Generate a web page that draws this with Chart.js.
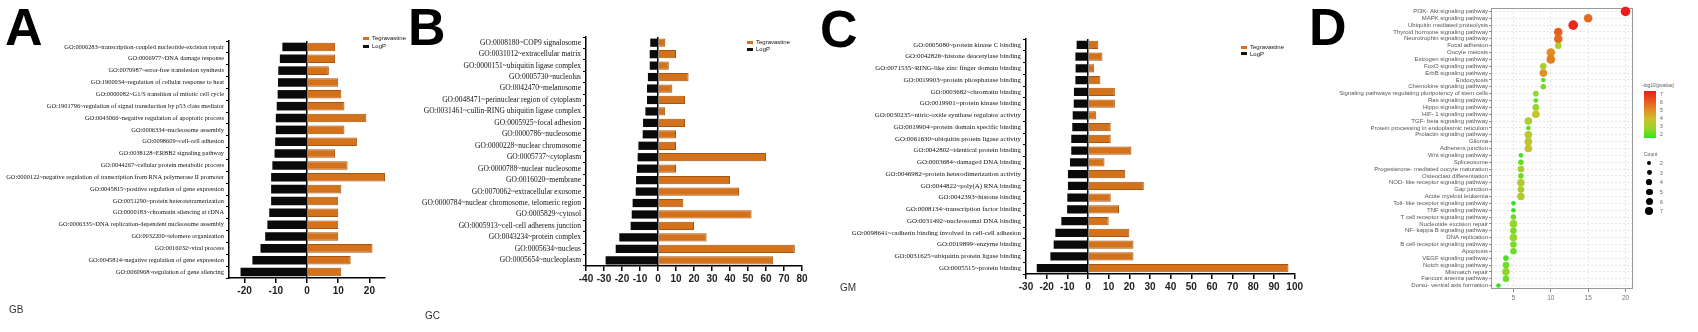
<!DOCTYPE html>
<html>
<head>
<meta charset="utf-8">
<script src="https://cdn.jsdelivr.net/npm/chart.js@4.4.0/dist/chart.umd.min.js"></script>
<style>
html, body { margin: 0; padding: 0; background: #fff; }
#wrap { position: relative; width: 1698px; height: 332px; overflow: hidden; font-family: "Liberation Sans", Arial, sans-serif; }
canvas { position: absolute; }
.t { position: absolute; white-space: nowrap; }
.letter { font-weight: bold; font-size: 52px; line-height: 52px; color: #000; }
.grp { font-size: 10px; line-height: 10px; color: #333; }
.lg { position: absolute; font-size: 6px; color: #111; white-space: nowrap; }
.lg .sw { display: inline-block; width: 6px; height: 3px; margin-right: 3px; vertical-align: middle; }
.dl { font-size: 5px; line-height: 6px; color: #555; }
</style>
</head>
<body>
<div id="wrap">
  <canvas id="cA" width="395" height="308" style="left:0px;top:0px"></canvas>
  <canvas id="cB" width="412" height="296" style="left:400px;top:0px"></canvas>
  <canvas id="cC" width="485" height="304" style="left:820px;top:0px"></canvas>
  <canvas id="cD" width="340" height="310" style="left:1300px;top:0px"></canvas>

  <div class="t letter" style="left:5px;top:1px">A</div>
  <div class="t letter" style="left:408px;top:1px">B</div>
  <div class="t letter" style="left:820px;top:3px">C</div>
  <div class="t letter" style="left:1309px;top:1px">D</div>

  <div class="t grp" style="left:9px;top:305px">GB</div>
  <div class="t grp" style="left:425px;top:311px">GC</div>
  <div class="t grp" style="left:840px;top:283px">GM</div>

  <div class="lg" style="left:363px;top:34px;line-height:8px">
    <div><span class="sw" style="background:#d4721b"></span>Tegravastine</div>
    <div><span class="sw" style="background:#111"></span>LogP</div>
  </div>
  <div class="lg" style="left:747px;top:39px;line-height:7px">
    <div><span class="sw" style="background:#d4721b"></span>Tegravastine</div>
    <div><span class="sw" style="background:#111"></span>LogP</div>
  </div>
  <div class="lg" style="left:1241px;top:44px;line-height:6.5px">
    <div><span class="sw" style="background:#d4721b"></span>Tegravastine</div>
    <div><span class="sw" style="background:#111"></span>LogP</div>
  </div>

  <div id="dLegend"></div>
</div>

<script>
// ---- panel A (GB) ----
const A_terms = [
  'GO:0006283~transcription-coupled nucleotide-excision repair',
  'GO:0006977~DNA damage response',
  'GO:0070987~error-free translesion synthesis',
  'GO:1900034~regulation of cellular response to heat',
  'GO:0000082~G1/S transition of mitotic cell cycle',
  'GO:1901796~regulation of signal transduction by p53 class mediator',
  'GO:0043066~negative regulation of apoptotic process',
  'GO:0006334~nucleosome assembly',
  'GO:0098609~cell-cell adhesion',
  'GO:0038128~ERBB2 signaling pathway',
  'GO:0044267~cellular protein metabolic process',
  'GO:0000122~negative regulation of transcription from RNA polymerase II promoter',
  'GO:0045815~positive regulation of gene expression',
  'GO:0051290~protein heterotetramerization',
  'GO:0000183~chromatin silencing at rDNA',
  'GO:0006335~DNA replication-dependent nucleosome assembly',
  'GO:0032200~telomere organization',
  'GO:0016032~viral process',
  'GO:0045814~negative regulation of gene expression',
  'GO:0060968~regulation of gene silencing'
];
const A_logp = [-7.9, -8.7, -9.2, -9.3, -9.4, -9.7, -10, -10, -10.2, -10.4, -11.1, -11.5, -11.5, -11.5, -12.1, -12.7, -13.4, -14.9, -17.5, -21.3];
const A_hits = [9, 9, 7, 10, 11, 12, 19, 12, 16, 9, 13, 25, 11, 10, 10, 10, 10, 21, 14, 11];
const A_ticks = [-20, -10, 0, 10, 20];

// ---- panel B (GC) ----
const B_terms = [
  'GO:0008180~COP9 signalosome',
  'GO:0031012~extracellular matrix',
  'GO:0000151~ubiquitin ligase complex',
  'GO:0005730~nucleolus',
  'GO:0042470~melanosome',
  'GO:0048471~perinuclear region of cytoplasm',
  'GO:0031461~cullin-RING ubiquitin ligase complex',
  'GO:0005925~focal adhesion',
  'GO:0000786~nucleosome',
  'GO:0000228~nuclear chromosome',
  'GO:0005737~cytoplasm',
  'GO:0000788~nuclear nucleosome',
  'GO:0016020~membrane',
  'GO:0070062~extracellular exosome',
  'GO:0000784~nuclear chromosome, telomeric region',
  'GO:0005829~cytosol',
  'GO:0005913~cell-cell adherens junction',
  'GO:0043234~protein complex',
  'GO:0005634~nucleus',
  'GO:0005654~nucleoplasm'
];
const B_logp = [-4.3, -4.6, -4.6, -5.6, -6.1, -6.1, -7.0, -8.3, -8.5, -10.9, -11.3, -11.7, -12.2, -12.4, -14.1, -14.6, -15.2, -21.5, -23.5, -29.1];
const B_hits = [4, 10, 6, 17, 8, 15, 4, 15, 10, 10, 60, 10, 40, 45, 14, 52, 20, 27, 76, 64];
const B_ticks = [-40, -30, -20, -10, 0, 10, 20, 30, 40, 50, 60, 70, 80];

// ---- panel C (GM) ----
const C_terms = [
  'GO:0005080~protein kinase C binding',
  'GO:0042826~histone deacetylase binding',
  'GO:0071535~RING-like zinc finger domain binding',
  'GO:0019903~protein phosphatase binding',
  'GO:0003682~chromatin binding',
  'GO:0019901~protein kinase binding',
  'GO:0030235~nitric-oxide synthase regulator activity',
  'GO:0019904~protein domain specific binding',
  'GO:0061630~ubiquitin protein ligase activity',
  'GO:0042802~identical protein binding',
  'GO:0003684~damaged DNA binding',
  'GO:0046982~protein heterodimerization activity',
  'GO:0044822~poly(A) RNA binding',
  'GO:0042393~histone binding',
  'GO:0008134~transcription factor binding',
  'GO:0031492~nucleosomal DNA binding',
  'GO:0098641~cadherin binding involved in cell-cell adhesion',
  'GO:0019899~enzyme binding',
  'GO:0031625~ubiquitin protein ligase binding',
  'GO:0005515~protein binding'
];
const C_logp = [-5.5, -6.1, -6.0, -6.1, -6.8, -6.9, -7.4, -7.6, -8.1, -8.1, -8.7, -9.7, -9.7, -10, -10.1, -12.9, -15.8, -16.6, -18.2, -24.8];
const C_hits = [5, 7, 3, 6, 13, 13, 4, 11, 11, 21, 8, 18, 27, 11, 15, 10, 20, 22, 22, 97];
const C_ticks = [-30, -20, -10, 0, 10, 20, 30, 40, 50, 60, 70, 80, 90, 100];

// ---- panel D (KEGG) ----
const D_paths = [
  'PI3K- Akt signaling pathway', 'MAPK signaling pathway', 'Ubiquitin mediated proteolysis',
  'Thyroid hormone signaling pathway', 'Neurotrophin signaling pathway', 'Focal adhesion',
  'Oocyte meiosis', 'Estrogen signaling pathway', 'FoxO signaling pathway', 'ErbB signaling pathway',
  'Endocytosis', 'Chemokine signaling pathway', 'Signaling pathways regulating pluripotency of stem cells',
  'Ras signaling pathway', 'Hippo signaling pathway', 'HIF- 1 signaling pathway', 'TGF- beta signaling pathway',
  'Protein processing in endoplasmic reticulum', 'Prolactin signaling pathway', 'Glioma', 'Adherens junction',
  'Wnt signaling pathway', 'Spliceosome', 'Progesterone- mediated oocyte maturation', 'Osteoclast differentiation',
  'NOD- like receptor signaling pathway', 'Gap junction', 'Acute myeloid leukemia',
  'Toll- like receptor signaling pathway', 'TNF signaling pathway', 'T cell receptor signaling pathway',
  'Nucleotide excision repair', 'NF- kappa B signaling pathway', 'DNA replication',
  'B cell receptor signaling pathway', 'Apoptosis', 'VEGF signaling pathway', 'Notch signaling pathway',
  'Mismatch repair', 'Fanconi anemia pathway', 'Dorso- ventral axis formation'
];
const D_xval = [20, 15, 13, 11, 11, 11, 10, 10, 9, 9, 9, 9, 8, 8, 8, 8, 7, 7, 7, 7, 7, 6, 6, 6, 6, 6, 6, 6, 5, 5, 5, 5, 5, 5, 5, 5, 4, 4, 4, 4, 3];
const D_pval = [7, 5.6, 6.8, 5.8, 5.6, 3.4, 5.0, 5.2, 3.4, 4.9, 2.4, 2.7, 2.9, 2.4, 3.1, 3.8, 3.5, 2.3, 3.6, 3.8, 3.9, 2.2, 2.5, 3.3, 2.6, 3.5, 3.3, 3.5, 2.0, 2.0, 2.5, 3.0, 2.7, 3.0, 2.7, 2.6, 2.3, 2.6, 2.9, 2.6, 2.0];
const D_size = [7, 6, 7, 6, 6, 4, 6, 6, 4, 5, 2, 3, 3, 2, 4, 5, 5, 2, 5, 5, 5, 2, 3, 4, 3, 5, 4, 5, 2, 2, 3, 5, 4, 5, 4, 4, 3, 4, 5, 4, 2];
const D_ticks = [5, 10, 15, 20];
const D_legendP = [7, 6, 5, 4, 3, 2];
const D_legendN = [2, 3, 4, 5, 6, 7];

const orange = '#d4721b';
const pStops = [[2, [50, 228, 30]], [3, [150, 214, 40]], [4, [205, 192, 45]], [5, [226, 140, 35]], [6, [232, 82, 30]], [7, [236, 28, 26]]];

function pColor(v) {
  if (v <= pStops[0][0]) return 'rgb(' + pStops[0][1].join(',') + ')';
  for (let i = 1; i < pStops.length; i++) {
    if (v <= pStops[i][0]) {
      const a = pStops[i - 1], b = pStops[i];
      const f = (v - a[0]) / (b[0] - a[0]);
      const c = a[1].map((x, k) => Math.round(x + (b[1][k] - x) * f));
      return 'rgb(' + c.join(',') + ')';
    }
  }
  return 'rgb(' + pStops[pStops.length - 1][1].join(',') + ')';
}
function rad(n) { return 1.3 + 0.5 * n; }

function goBars(id, terms, logp, hits, xmin, xmax, xticks, yWidth, fontSize, padTop) {
  new Chart(document.getElementById(id), {
    type: 'bar',
    data: {
      labels: terms,
      datasets: [
        { label: 'Tegravastine', data: hits, backgroundColor: orange, borderColor: '#a8550f', borderWidth: 1 },
        { label: 'LogP', data: logp, backgroundColor: '#0a0a0a', borderWidth: 0 }
      ]
    },
    options: {
      indexAxis: 'y',
      responsive: false,
      animation: false,
      layout: { padding: { top: padTop, right: 10, left: 0, bottom: 0 } },
      datasets: { bar: { barPercentage: 0.72, categoryPercentage: 1 } },
      plugins: { legend: { display: false }, tooltip: { enabled: false } },
      scales: {
        y: {
          stacked: true,
          grid: { drawOnChartArea: false, tickLength: 3, tickColor: '#000', tickWidth: 1.2 },
          border: { color: '#000', width: 1.5 },
          ticks: { autoSkip: false, padding: 2, color: '#111', font: { family: '"Liberation Serif", "Times New Roman", serif', size: fontSize } },
          afterFit: s => { s.width = yWidth; }
        },
        x: {
          stacked: true, min: xmin, max: xmax,
          afterBuildTicks: s => { s.ticks = xticks.map(v => ({ value: v })); },
          grid: {
            color: c => (c.tick && c.tick.value === 0) ? '#000' : 'rgba(0,0,0,0)',
            lineWidth: 1.5, tickColor: '#000', tickLength: 5, tickWidth: 1.5
          },
          border: { color: '#000', width: 1.5 },
          ticks: { maxRotation: 0, padding: 2, color: '#222', font: { family: '"Liberation Sans Narrow", "Liberation Sans", Arial, sans-serif', size: 10, weight: 'bold' } },
          afterFit: s => { s.height = 30; }
        }
      }
    }
  });
}

goBars('cA', A_terms, A_logp, A_hits, -25, 25, A_ticks, 229, 6.4, 41);
goBars('cB', B_terms, B_logp, B_hits, -40, 80, B_ticks, 186, 7.5, 37);
goBars('cC', C_terms, C_logp, C_hits, -30, 100, C_ticks, 206, 6.9, 39);

const framePlugin = {
  id: 'frame',
  beforeDatasetsDraw(chart) {
    const { ctx, chartArea: a } = chart;
    ctx.save();
    ctx.strokeStyle = '#9a9a9a';
    ctx.lineWidth = 1;
    ctx.strokeRect(a.left + 0.5, a.top + 0.5, a.width - 1, a.height - 1);
    ctx.restore();
  }
};

new Chart(document.getElementById('cD'), {
  type: 'bubble',
  data: {
    datasets: [{
      label: 'KEGG',
      data: D_paths.map((p, i) => ({ x: D_xval[i], y: p, r: rad(D_size[i]) })),
      backgroundColor: D_pval.map(pColor),
      borderWidth: 0
    }]
  },
  options: {
    responsive: false,
    animation: false,
    layout: { padding: { top: 8, right: 7, left: 0, bottom: 0 } },
    plugins: { legend: { display: false }, tooltip: { enabled: false } },
    scales: {
      y: {
        type: 'category', labels: D_paths, offset: true,
        grid: { color: '#e6e6e6', tickColor: '#888', tickLength: 2 },
        border: { display: false, dash: [2, 2] },
        ticks: { autoSkip: false, padding: 1, color: '#555', font: { family: '"Liberation Sans", Arial, sans-serif', size: 6 } },
        afterFit: s => { s.width = 191; }
      },
      x: {
        min: 2, max: 21,
        afterBuildTicks: s => { s.ticks = D_ticks.map(v => ({ value: v })); },
        grid: { color: '#e6e6e6', tickColor: '#888', tickLength: 3 },
        border: { display: false, dash: [2, 2] },
        ticks: { maxRotation: 0, padding: 2, color: '#777', font: { family: '"Liberation Sans", Arial, sans-serif', size: 6.5 } },
        afterFit: s => { s.height = 21; }
      }
    }
  },
  plugins: [framePlugin]
});

// legends for panel D
(function () {
  const box = document.getElementById('dLegend');
  let html = '<div class="t dl" style="left:1642px;top:82px">-log10(pvalue)</div>';
  const grad = pStops.slice().reverse().map((s, i) => 'rgb(' + s[1].join(',') + ') ' + (i * 20) + '%').join(',');
  html += '<div class="t" style="left:1644px;top:91px;width:12px;height:47px;background:linear-gradient(to bottom,' + grad + ')"></div>';
  D_legendP.forEach((v, i) => {
    html += '<div class="t dl" style="left:1660px;top:' + (90.5 + i * 8.1) + 'px">' + v + '</div>';
  });
  html += '<div class="t dl" style="left:1644px;top:151px">Count</div>';
  const ys = [163.3, 172.7, 182.3, 192, 201.7, 211];
  D_legendN.forEach((n, i) => {
    const r = 1.2 + 0.42 * n;
    html += '<div class="t" style="left:' + (1649.3 - r) + 'px;top:' + (ys[i] - r) + 'px;width:' + (2 * r) + 'px;height:' + (2 * r) + 'px;border-radius:50%;background:#000"></div>';
    html += '<div class="t dl" style="left:1660px;top:' + (ys[i] - 3) + 'px">' + n + '</div>';
  });
  box.innerHTML = html;
})();
</script>
</body>
</html>
